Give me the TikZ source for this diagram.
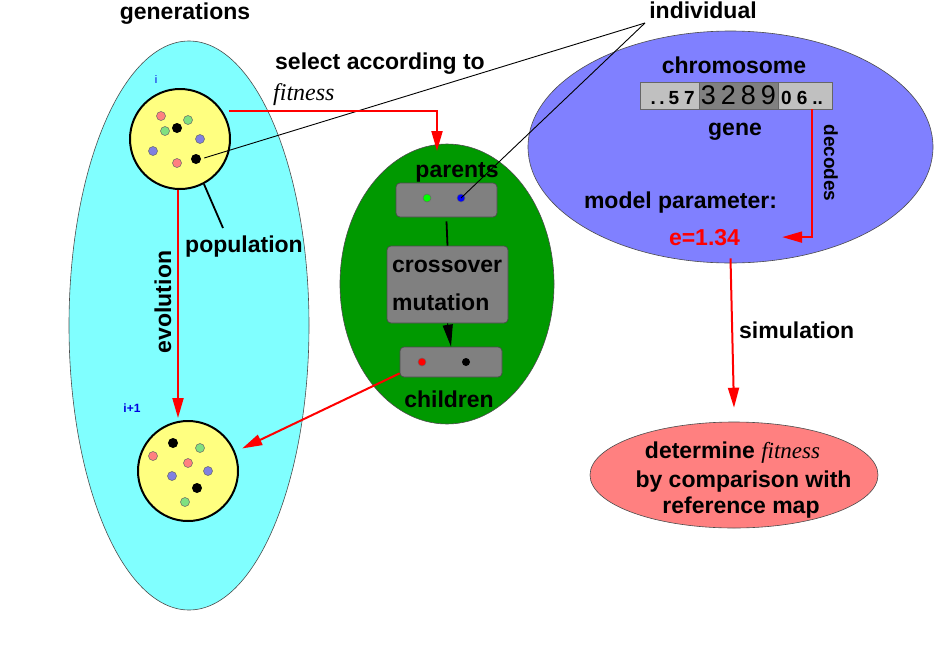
\documentclass[tikz,border=0pt]{standalone}
\usepackage{fontspec}
\setmainfont{Liberation Sans}
\newfontfamily\tms{Liberation Serif}
\usetikzlibrary{shapes.geometric,arrows.meta,calc}
\definecolor{cyanbg}{HTML}{80FFFF}
\definecolor{yel}{HTML}{FFFF80}
\definecolor{grn}{HTML}{009900}
\definecolor{blu}{HTML}{8080FF}
\definecolor{pnk}{HTML}{FF8080}
\definecolor{dotpink}{HTML}{FF8080}
\definecolor{dotgreen}{HTML}{80E080}
\definecolor{dotviolet}{HTML}{8080E0}
\definecolor{boxgray}{HTML}{808080}
\definecolor{lgray}{HTML}{C0C0C0}
\definecolor{lblue}{HTML}{0000E0}
\begin{document}
\begin{tikzpicture}[x=1pt,y=-1pt,
  lbl/.style={font=\fontsize{23}{26}\selectfont\bfseries, inner sep=0pt, anchor=base},
  lblw/.style={lbl, anchor=base west},
  bigell/.style={ellipse, draw=black!70, line width=0.6pt, inner sep=0pt},
  popc/.style={circle, draw=black, line width=2pt, fill=yel, minimum size=100pt, inner sep=0pt},
  dot/.style={circle, draw=black!60, line width=0.5pt, minimum size=9pt, inner sep=0pt},
  bdot/.style={circle, fill=black, minimum size=10pt, inner sep=0pt},
  gbox/.style={rectangle, rounded corners=4pt, draw=black!70, line width=0.7pt, fill=boxgray, inner sep=0pt},
  seg/.style={rectangle, draw=black!60, line width=0.7pt, minimum height=27pt, inner sep=0pt},
  redarr/.style={draw=red, line width=2pt, -{Triangle[length=20pt,width=11pt]}},
  indline/.style={draw=black, line width=0.9pt}
]
\useasboundingbox (0,0) rectangle (935,654);

% big ellipses
\node[bigell, fill=cyanbg, minimum width=240pt, minimum height=569pt] (gen) at (189,325.5) {};
\node[bigell, fill=grn, minimum width=214pt, minimum height=280pt] (grnell) at (447,284) {};
\node[bigell, fill=blu, minimum width=405pt, minimum height=232pt] (blue) at (730.5,147) {};
\node[bigell, fill=pnk, minimum width=288pt, minimum height=106pt] (pink) at (734,475) {};

% labels top
\node[lbl] (genlbl) at (185,19) {generations};
\node[lbl] (indiv) at (703,18) {individual};
\node[lblw] (sel) at (275,69) {select according to};
\node[lblw, font=\fontsize{24}{26}\selectfont\tms\itshape] (fit) at (273,100) {fitness};

% population circles
\node[font=\fontsize{11}{12}\selectfont, text=lblue, inner sep=0pt, anchor=base] (ilbl) at (156,83) {i};
\node[popc] (toppop) at (180,139) {};
\node[dot, fill=dotpink] (a1) at (161,116) {};
\node[dot, fill=dotgreen] (a2) at (188,120) {};
\node[bdot] (a3) at (177,128) {};
\node[dot, fill=dotgreen] (a4) at (165,131) {};
\node[dot, fill=dotviolet] (a5) at (200,139) {};
\node[dot, fill=dotviolet] (a6) at (153,151) {};
\node[dot, fill=dotpink] (a7) at (177,163) {};
\node[bdot] (a8) at (196,159) {};

\node[font=\fontsize{12}{13}\selectfont\bfseries, text=lblue, inner sep=0pt, anchor=base] (i1lbl) at (132,412) {i+1};
\node[popc] (botpop) at (188,471) {};
\node[bdot] (b1) at (173,443) {};
\node[dot, fill=dotgreen] (b2) at (200,448) {};
\node[dot, fill=dotpink] (b3) at (153,456) {};
\node[dot, fill=dotpink] (b4) at (188,463) {};
\node[dot, fill=dotviolet] (b5) at (172,476) {};
\node[dot, fill=dotviolet] (b6) at (208,471) {};
\node[bdot] (b7) at (197,488) {};
\node[dot, fill=dotgreen] (b8) at (185,502) {};

\node[lbl] (poplbl) at (244,252) {population};
\node[lbl, anchor=center, rotate=90] (evol) at (163,302) {evolution};

% green part
\node[lbl] (parlbl) at (457,177) {parents};
\node[gbox, minimum width=101pt, minimum height=34pt] (pbox) at (446.5,200) {};
\node[circle, fill=green, draw=black!60, line width=0.5pt, minimum size=8pt, inner sep=0pt] (p1) at (427,198) {};
\node[circle, fill=blue, draw=black!60, line width=0.5pt, minimum size=8pt, inner sep=0pt] (p2) at (461,198) {};
\node[gbox, minimum width=121pt, minimum height=77pt] (xbox) at (447.5,284.5) {};
\node[lblw] (xlbl) at (392,272) {crossover};
\node[lblw] (mlbl) at (392,310) {mutation};
\node[gbox, minimum width=102pt, minimum height=30pt] (cbox) at (451,362) {};
\node[circle, fill=red, draw=black!60, line width=0.5pt, minimum size=8pt, inner sep=0pt] (c1) at (422,362) {};
\node[circle, fill=black, minimum size=8pt, inner sep=0pt] (c2) at (466,362) {};
\node[lbl] (chlbl) at (449,407) {children};

% blue part
\node[lbl] (chromlbl) at (734,73) {chromosome};
\node[seg, fill=lgray, minimum width=59pt] (s1) at (669.5,95.5) {};
\node[seg, fill=boxgray, minimum width=79pt] (s2) at (738.5,95.5) {};
\node[seg, fill=lgray, minimum width=54pt] (s3) at (805,95.5) {};
\node[font=\fontsize{19}{20}\selectfont\bfseries, inner sep=0pt, anchor=base east] (t1) at (695,104) {.\kern3.5pt.\kern4pt5\kern5pt7};
\node[font=\fontsize{27}{28}\selectfont, inner sep=0pt, anchor=base] (t2) at (738.5,104.5) {3\kern5pt2\kern5pt8\kern5pt9};
\node[font=\fontsize{19}{20}\selectfont\bfseries, inner sep=0pt, anchor=base west] (t3) at (781,104) {0\kern5pt6\kern5pt..};
\node[lbl] (genelbl) at (735,135) {gene};
\node[lbl] (mplbl) at (680.5,208) {model parameter:};
\node[lbl, text=red] (eval) at (704.5,245) {e=1.34};
\node[font=\fontsize{19}{20}\selectfont\bfseries, inner sep=0pt, rotate=-90] (declbl) at (831,163) {decodes};
\node[lblw] (simlbl) at (739,338) {simulation};

% pink texts
\node[lbl] (r1) at (732.5,458) {determine {\tms\mdseries\itshape fitness}};
\node[lbl] (r2) at (743.5,487) {by comparison with};
\node[lbl] (r3) at (741,513) {reference map};

% connectors
\coordinate (apex) at (645,23);
\coordinate (selin) at (437,151);
\coordinate (popend) at (223,228);
\draw[indline] (apex) -- ([xshift=3pt,yshift=1pt]a8.east);
\draw[indline] (apex) -- (p2.center);
\draw[draw=black, line width=1.8pt] (toppop.-62) -- (popend);
\draw[redarr] ([xshift=6pt]toppop.33) -| (selin);
\draw[redarr] ([xshift=-2pt]toppop.south) -- ([xshift=-2pt,yshift=-228pt]toppop.south);
\draw[redarr] ([yshift=4pt]cbox.south west) -- ([xshift=8pt,yshift=1pt]botpop.25);
\draw[draw=black, line width=1.8pt] ([yshift=-4pt]pbox.south) -- (xbox.north);
\draw[draw=black, line width=1pt, -{Triangle[length=22pt,width=10pt]}] (xbox.south) -- (cbox.north);
\draw[redarr] ([xshift=7pt]s3.south) |- ([xshift=42pt,yshift=0pt]eval.east);
\draw[redarr] ([yshift=5pt]blue.south) -- ([yshift=14pt]pink.north);
\end{tikzpicture}
\end{document}
